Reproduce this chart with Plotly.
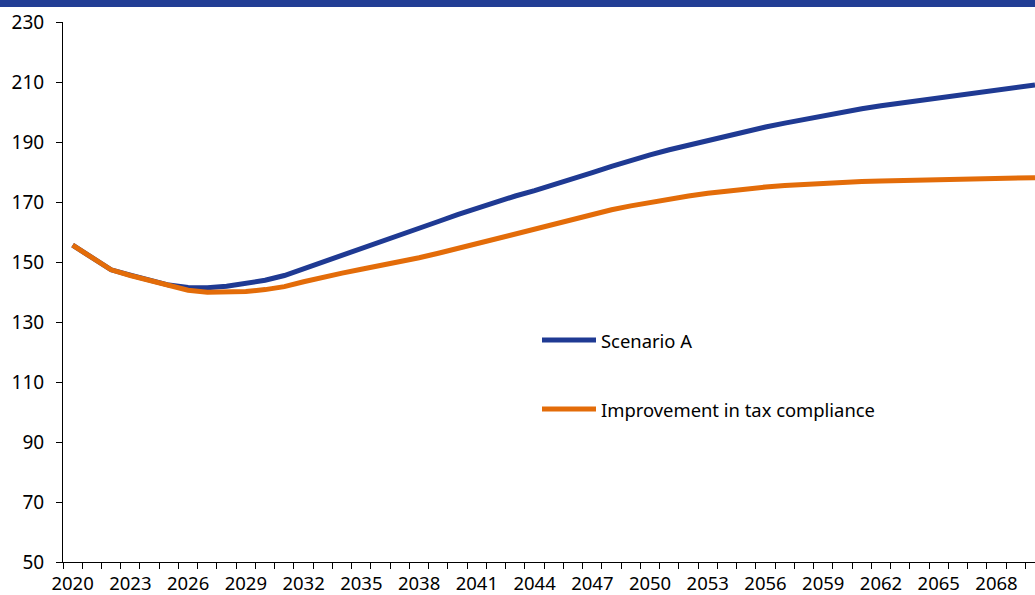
import plotly.graph_objects as go

# Projection years and the two debt paths
years = list(range(2020, 2071))

scenario_a = [
    155.6, 151.4, 147.4, 145.6, 143.9, 142.3, 141.5, 141.4, 141.9, 142.7,
    143.9, 145.5, 147.7, 150.0, 152.3, 154.5, 156.6, 158.7, 161.0, 163.5,
    165.8, 168.0, 170.2, 172.0, 173.8, 175.7, 177.7, 179.8, 181.9, 183.9,
    185.7, 187.4, 189.0, 190.6, 192.1, 193.6, 195.0, 196.3, 197.6, 198.8,
    200.0, 201.1, 202.1, 203.0, 203.8, 204.6, 205.5, 206.4, 207.3, 208.2,
    209.0,
]

tax_compliance = [
    155.6, 151.4, 147.4, 145.5, 143.8, 142.0, 140.6, 139.9, 139.9, 140.2,
    140.8, 141.8, 143.4, 145.0, 146.3, 147.6, 148.8, 150.0, 151.4, 152.9,
    154.5, 156.2, 157.9, 159.6, 161.2, 162.9, 164.5, 166.0, 167.4, 168.7,
    169.9, 171.0, 172.0, 172.9, 173.7, 174.4, 175.0, 175.5, 175.9, 176.3,
    176.6, 176.8, 177.0, 177.1, 177.2, 177.3, 177.4, 177.5, 177.7, 177.9,
    178.1,
]

series_names = ["Scenario A", "Improvement in tax compliance"]
x_tick_labels = list(range(2020, 2071, 3))
y_ticks = list(range(50, 231, 20))

BLUE = "#1F3A93"
ORANGE = "#E36C09"
FONT = "Noto Sans"

W, H = 1035, 595
ML, MR, MT, MB = 63, 0, 22, 33
PW, PH = W - ML - MR, H - MT - MB


def px_x(p):
    return (p - ML) / PW


def px_y(p):
    return (H - MB - p) / PH


fig = go.Figure()
fig.add_trace(go.Scatter(x=years, y=scenario_a, mode="lines", name=series_names[0],
                         line=dict(color=BLUE, width=5), showlegend=False))
fig.add_trace(go.Scatter(x=years, y=tax_compliance, mode="lines", name=series_names[1],
                         line=dict(color=ORANGE, width=5), showlegend=False))

shapes = [
    # header band across the top
    dict(type="rect", xref="paper", yref="paper",
         x0=px_x(0), x1=px_x(W), y0=px_y(7), y1=px_y(0),
         fillcolor="#223E95", line=dict(width=0), layer="above"),
]
annotations = []
legend_rows = [(series_names[0], BLUE, 340), (series_names[1], ORANGE, 409)]
for name, color, ypix in legend_rows:
    shapes.append(dict(type="line", xref="paper", yref="paper",
                       x0=px_x(542), x1=px_x(596), y0=px_y(ypix), y1=px_y(ypix),
                       line=dict(color=color, width=5)))
    annotations.append(dict(text=name, xref="paper", yref="paper",
                            x=px_x(599), y=px_y(ypix), xanchor="left", yanchor="middle",
                            showarrow=False, font=dict(family=FONT, size=18.4, color="#000")))

fig.update_layout(
    width=W, height=H,
    margin=dict(l=ML, r=MR, t=MT, b=MB, autoexpand=False),
    paper_bgcolor="white", plot_bgcolor="white",
    font=dict(family=FONT, size=19, color="#000"),
    shapes=shapes, annotations=annotations,
    showlegend=False,
)

fig.update_xaxes(
    range=[2019.5, 2070.0],
    tickvals=x_tick_labels, ticktext=[str(v) for v in x_tick_labels],
    ticks="", showgrid=False, zeroline=False, automargin=False,
    showline=True, linecolor="#000", linewidth=1,
    ticklabelstandoff=5,
    minor=dict(tick0=2019.5, dtick=1, ticks="outside", ticklen=6,
               tickcolor="#000", tickwidth=1, showgrid=False),
    tickfont=dict(family=FONT, size=18.5, color="#000"),
)
fig.update_yaxes(
    range=[50, 230],
    tickvals=y_ticks,
    ticks="outside", ticklen=6, tickcolor="#000", tickwidth=1,
    showgrid=False, zeroline=False, automargin=False,
    showline=True, linecolor="#000", linewidth=1,
    ticklabelstandoff=8,
    tickfont=dict(family=FONT, size=19, color="#000"),
)

fig.write_html("out.html")
